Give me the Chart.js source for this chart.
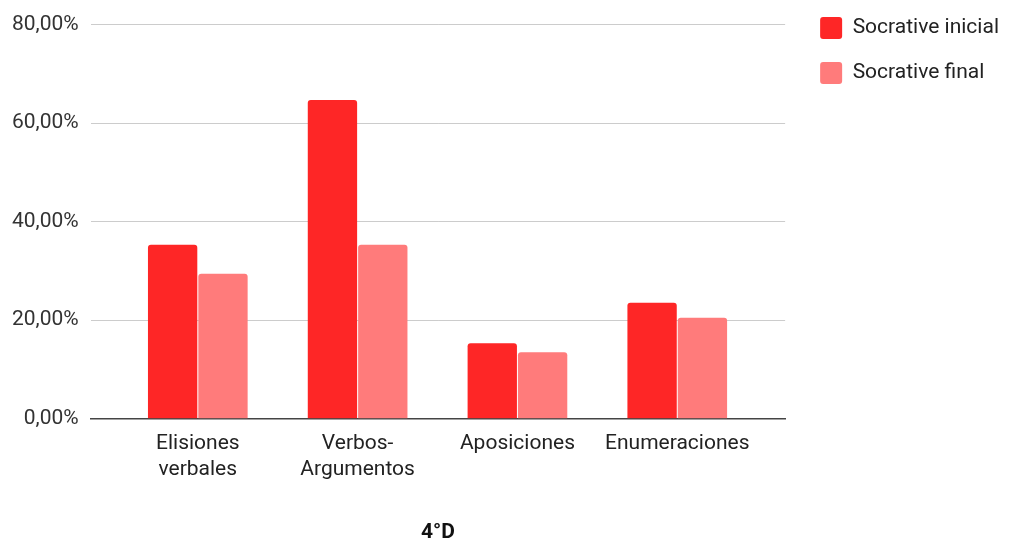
<!DOCTYPE html>
<html>
<head>
<meta charset="utf-8">
<script src="https://cdn.jsdelivr.net/npm/chart.js@4/dist/chart.umd.min.js"></script>
<style>
  html, body { margin: 0; padding: 0; background: #fff; }
  #wrap { width: 1011px; height: 542px; position: relative; }
</style>
</head>
<body>
<div id="wrap"><canvas id="c" width="1011" height="542"></canvas></div>
<script>
// Categories (multi-line labels) and the two Socrative series, in percent
const categories = [
  ['Elisiones', 'verbales'],
  ['Verbos-', 'Argumentos'],
  ['Aposiciones'],
  ['Enumeraciones']
];
const socrativeInicial = [35.29, 64.71, 15.30, 23.53];
const socrativeFinal = [29.41, 35.29, 13.50, 20.50];
const yTicks = [0, 20, 40, 60, 80];
const seriesNames = ['Socrative inicial', 'Socrative final'];
const chartTitle = '4°D';

const toPoints = arr => arr.map((v, i) => ({ x: i, y: v }));
const fmtPct = v => v.toFixed(2).replace('.', ',') + '%';

// Nudges the legend block so it sits in the top-right corner
const legendNudge = {
  id: 'legendNudge',
  afterLayout(chart) {
    const lg = chart.legend;
    if (!lg) return;
    lg.top -= 24;
    lg.bottom -= 24;
    lg.left += 12;
    lg.right += 12;
  }
};

new Chart(document.getElementById('c'), {
  type: 'bar',
  data: {
    datasets: [
      {
        label: seriesNames[0],
        data: toPoints(socrativeInicial),
        backgroundColor: '#fe2626',
        borderWidth: 0,
        borderRadius: { topLeft: 3, topRight: 3 },
        borderSkipped: 'bottom',
        categoryPercentage: 0.63,
        barPercentage: 0.98
      },
      {
        label: seriesNames[1],
        data: toPoints(socrativeFinal),
        backgroundColor: '#ff7b7b',
        borderWidth: 0,
        borderRadius: { topLeft: 3, topRight: 3 },
        borderSkipped: 'bottom',
        categoryPercentage: 0.63,
        barPercentage: 0.98
      }
    ]
  },
  plugins: [legendNudge],
  options: {
    responsive: false,
    animation: false,
    layout: { padding: { left: 0, right: 14, top: 18, bottom: -3 } },
    scales: {
      x: {
        type: 'linear',
        offset: false,
        bounds: 'data',
        min: -0.67,
        max: 3.675,
        afterBuildTicks: scale => {
          scale.ticks = categories.map((_, i) => ({ value: i }));
        },
        ticks: {
          autoSkip: false,
          maxRotation: 0,
          padding: 12,
          color: '#222',
          font: { family: 'Roboto', size: 21, lineHeight: 1.24 },
          callback: v => categories[v]
        },
        grid: { display: false, drawTicks: false },
        border: { display: true, color: '#444', width: 1.5 }
      },
      y: {
        min: 0,
        max: 80,
        afterBuildTicks: scale => {
          scale.ticks = yTicks.map(v => ({ value: v }));
        },
        ticks: {
          padding: 12,
          color: '#333',
          font: { family: 'Roboto', size: 21 },
          callback: v => fmtPct(v)
        },
        grid: { color: '#cccccc', lineWidth: 1, drawTicks: false },
        border: { display: false }
      }
    },
    plugins: {
      legend: {
        position: 'right',
        align: 'start',
        labels: {
          boxWidth: 22,
          boxHeight: 22,
          padding: 23,
          color: '#222',
          font: { family: 'Roboto', size: 21 },
          useBorderRadius: true,
          borderRadius: 3,
          generateLabels: chart => chart.data.datasets.map((ds, i) => ({
            text: ds.label,
            fillStyle: ds.backgroundColor,
            strokeStyle: ds.backgroundColor,
            lineWidth: 0,
            borderRadius: 3,
            datasetIndex: i,
            fontColor: '#222'
          }))
        }
      },
      title: {
        display: true,
        text: chartTitle,
        position: 'bottom',
        fullSize: false,
        color: '#111',
        font: { family: 'Roboto', size: 21, weight: 'bold' },
        padding: { top: 25, bottom: 0 }
      },
      tooltip: { enabled: false }
    }
  }
});
</script>
</body>
</html>
